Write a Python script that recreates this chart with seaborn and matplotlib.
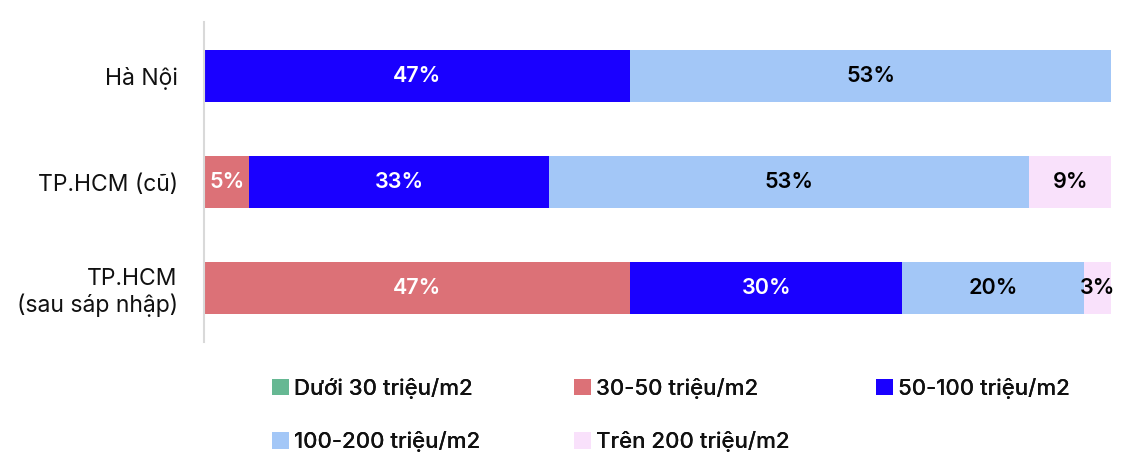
import numpy as np
import pandas as pd
import matplotlib
matplotlib.use("Agg")
import matplotlib.pyplot as plt
import seaborn as sns
from matplotlib.patches import Patch

categories = ["Hà Nội", "TP.HCM (cũ)", "TP.HCM\n(sau sáp nhập)"]
series_names = ["Dưới 30 triệu/m2", "30-50 triệu/m2", "50-100 triệu/m2",
                "100-200 triệu/m2", "Trên 200 triệu/m2"]
duoi_30 = [0, 0, 0]
tr_30_50 = [0, 5, 47]
tr_50_100 = [47, 33, 30]
tr_100_200 = [53, 53, 20]
tren_200 = [0, 9, 3]

colors = ["#66b893", "#dc7177", "#1a00ff", "#a3c7f7", "#f9e1fb"]
text_colors = ["white", "white", "white", "black", "black"]

sns.set_theme(style="white")
plt.rcParams["font.family"] = ["Inter", "DejaVu Sans"]

series = [duoi_30, tr_30_50, tr_50_100, tr_100_200, tren_200]
vals = np.array(series, dtype=float)
cum = np.cumsum(vals, axis=0)

fig = plt.figure(figsize=(11.34, 4.61), dpi=100)
ax = fig.add_axes([0.18, 0.258, 0.7997, 0.694])

# draw cumulative bars from largest to smallest so they stack visually
for i in range(len(series) - 1, -1, -1):
    df = pd.DataFrame({"cat": categories, "val": cum[i]})
    sns.barplot(data=df, x="val", y="cat", orient="h", color=colors[i],
                saturation=1, width=0.49, ax=ax, edgecolor="none", linewidth=0)

for i in range(len(series)):
    for j in range(len(categories)):
        v = vals[i, j]
        if v <= 0:
            continue
        left = cum[i, j] - v
        ax.text(left + v / 2, j, f"{int(round(v))}%", ha="center", va="center",
                color=text_colors[i], fontsize=15.5, fontweight="semibold")

ax.set_xlim(0, 100)
ax.set_ylim(2.505, -0.51)
ax.set_xlabel("")
ax.set_ylabel("")
ax.set_xticks([])
ax.tick_params(axis="y", length=0, pad=19, labelsize=16.5)
for lab in ax.get_yticklabels():
    lab.set_color("#111111")
for s in ["top", "right", "bottom"]:
    ax.spines[s].set_visible(False)
ax.spines["left"].set_color("#d9d9d9")
ax.spines["left"].set_linewidth(1.5)

handles = [Patch(facecolor=c, edgecolor="none") for c in colors]
columns = [[0, 3], [1, 4], [2]]
col_x = [272, 574, 876]
W, H = 1134, 461
for idxs, x in zip(columns, col_x):
    leg = fig.legend([handles[k] for k in idxs], [series_names[k] for k in idxs],
                     loc="upper left", bbox_to_anchor=(x / W, 1 - 378 / H),
                     frameon=False, fontsize=16, handlelength=0.75, handleheight=0.75,
                     handletextpad=0.25, labelspacing=1.45,
                     borderaxespad=0, borderpad=0)
    for t in leg.get_texts():
        t.set_fontweight("medium")
        t.set_color("#111111")
    fig.add_artist(leg)

fig.savefig("out.png", dpi=100, facecolor="white")
